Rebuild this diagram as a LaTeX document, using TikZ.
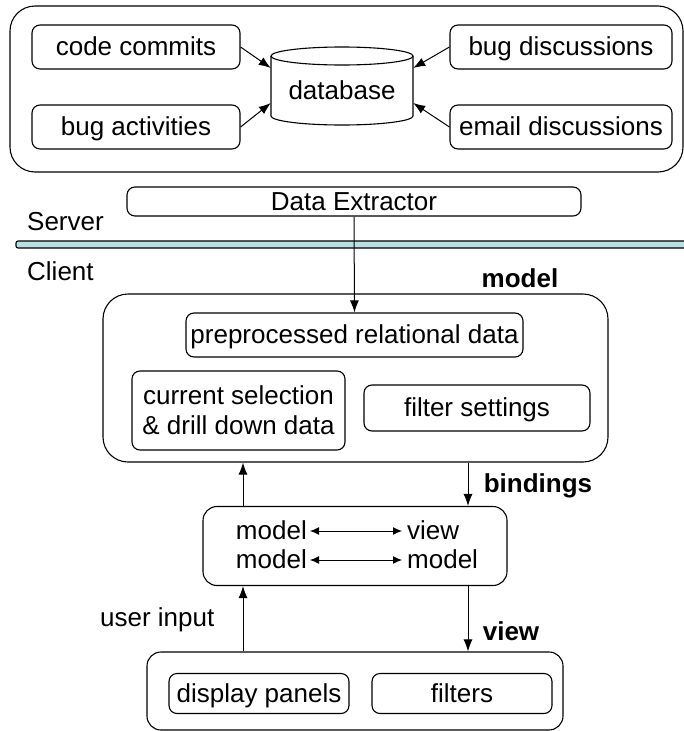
\documentclass[tikz,border=0pt]{standalone}
\usepackage{fontspec}
\setmainfont{Liberation Sans}
\usetikzlibrary{arrows.meta,calc}
\definecolor{bandfill}{HTML}{B8DFE2}
\tikzset{
  box/.style={draw, line width=1.1pt, rounded corners=8pt, inner sep=0pt, align=center},
  onel/.style={text height=21pt, text depth=4pt},
  group/.style={draw, line width=1.1pt, rounded corners=25pt, inner sep=0pt},
  arr/.style={line width=1pt, -{Latex[length=12pt,width=9pt]}},
  dblarr/.style={line width=1pt, {Latex[length=9pt,width=8pt]}-{Latex[length=9pt,width=8pt]}},
  lbl/.style={inner sep=0pt},
  bold/.style={inner sep=0pt, font=\fontsize{26}{30}\selectfont\bfseries},
}
\begin{document}
\begin{tikzpicture}[x=1pt, y=-1pt, font=\fontsize{26}{30}\selectfont]
\useasboundingbox (0,0) rectangle (684,731);

% server side: sources feeding the database
\node[group, minimum width=673pt, minimum height=166pt] (server) at (346.5,89) {};
\node[box, onel, minimum width=208pt, minimum height=44pt] (code) at (136,47) {code commits};
\node[box, onel, minimum width=208pt, minimum height=44pt] (bugact) at (136,127) {bug activities};
\node[box, onel, minimum width=222pt, minimum height=44pt] (bugdisc) at (561,47) {bug discussions};
\node[box, onel, minimum width=222pt, minimum height=44pt] (email) at (561,127) {email discussions};

% database cylinder
\node[lbl, minimum width=142pt, minimum height=78pt] (db) at (342,86) {};
\draw[line width=1.1pt, fill=white] (342,56) ellipse [x radius=71pt, y radius=9pt];
\draw[line width=1.1pt] (271,56) -- (271,116) arc[start angle=180, end angle=360, x radius=71pt, y radius=9pt] -- (413,56);
\node[lbl, onel] at (342,91) {database};

\draw[arr] (code.east) -- ($(db.west)+(0,-18)$);
\draw[arr] (bugact.east) -- ($(db.west)+(0,17)$);
\draw[arr] (bugdisc.west) -- ($(db.east)+(0,-18)$);
\draw[arr] (email.west) -- ($(db.east)+(0,17)$);

\node[box, onel, minimum width=454pt, minimum height=29pt] (dx) at (354,201.5) {Data Extractor};
\node[lbl, anchor=west] (srv) at (27,222) {Server};

% server / client divider
\draw[line width=1.1pt, fill=bandfill, rounded corners=2pt] (16,241) rectangle (690,248);

\node[lbl, anchor=west] (cli) at (27,271) {Client};
\node[bold] (modellbl) at (520,278) {model};

% model
\node[group, minimum width=505pt, minimum height=168pt] (model) at (355.5,378) {};
\node[box, onel, minimum width=337pt, minimum height=44pt] (pre) at (354.5,335) {preprocessed relational data};
\node[box, minimum width=213pt, minimum height=79pt] (sel) at (238.5,410.5) {current selection\\\& drill down data};
\node[box, onel, minimum width=226pt, minimum height=46pt] (fset) at (477,408) {filter settings};

\draw[arr] (dx.south) -- (pre.north);

% bindings
\node[box, minimum width=304pt, minimum height=79pt, rounded corners=14pt] (bind) at (355,546) {};
\node[lbl, onel, anchor=east] (m1) at (307,531) {model};
\node[lbl, onel, anchor=west] (v1) at (407,531) {view};
\node[lbl, onel, anchor=east] (m2) at (307,560) {model};
\node[lbl, onel, anchor=west] (m3) at (407,560) {model};
\draw[dblarr] ([xshift=3pt]m1.east) -- ([xshift=-5pt]v1.west);
\draw[dblarr] ([xshift=3pt]m2.east) -- ([xshift=-5pt]m3.west);

\node[bold] (bindlbl) at (538,486) {bindings};

% view
\node[box, minimum width=416pt, minimum height=78pt, rounded corners=14pt] (view) at (355,691) {};
\node[box, onel, minimum width=180pt, minimum height=40pt] (disp) at (259,693.5) {display panels};
\node[box, onel, minimum width=180pt, minimum height=40pt] (filt) at (462,693.5) {filters};
\node[bold] (viewlbl) at (511,631) {view};
\node[lbl, anchor=west] (ui) at (100,620) {user input};

\coordinate (upA) at (243,0);
\coordinate (dnA) at (468,0);
\draw[arr] (upA |- bind.north) -- (upA |- model.south);
\draw[arr] (dnA |- model.south) -- (dnA |- bind.north);
\draw[arr] (upA |- view.north) -- (upA |- bind.south);
\draw[arr] (dnA |- bind.south) -- (dnA |- view.north);
\end{tikzpicture}
\end{document}
